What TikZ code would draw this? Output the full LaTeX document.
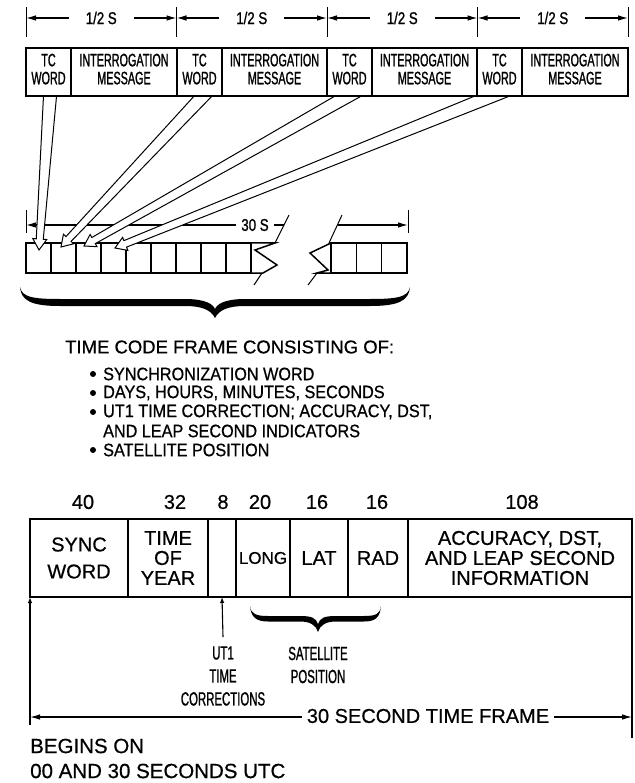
\documentclass[tikz,border=0pt]{standalone}
\usepackage{fontspec}
\setmainfont{Liberation Sans}[FakeBold=0.6]
\newfontfamily\condf[FakeStretch=0.6,FakeBold=1.1]{Liberation Sans}
\newfontfamily\midf[FakeStretch=0.78,FakeBold=1.1]{Liberation Sans}
\newfontfamily\semif[FakeStretch=0.9,FakeBold=0.7]{Liberation Sans}
\usetikzlibrary{calc,arrows.meta}
\pgfdeclarelayer{front}
\pgfsetlayers{main,front}
\newcommand\hollowarr[2]{%
  \path ($(#2)!1.15!(#1)$) coordinate (hS) ($(#2)!11pt!(#1)$) coordinate (hH);
  \draw[hollowarrow] ($(hS)!7pt!90:(#2)$) -- ($(hH)!3.5pt!90:(#2)$) -- ($(hH)!7pt!90:(#2)$) -- (#2)
    -- ($(hH)!7pt!-90:(#2)$) -- ($(hH)!3.5pt!-90:(#2)$) -- ($(hS)!7pt!-90:(#2)$);
}
\begin{document}
\begin{tikzpicture}[x=1pt,y=-1pt,
  box/.style={draw,line width=1.7pt,fill=white,inner sep=0pt,outer sep=0pt,anchor=north west,align=center},
  topbox/.style={box,minimum height=48pt,font=\condf\fontsize{18}{18}\selectfont,text depth=6pt},
  botbox/.style={box,minimum height=78pt,font=\fontsize{20}{20}\selectfont},
  cellbox/.style={draw,line width=1.5pt,inner sep=0pt,outer sep=0pt,anchor=north west,minimum width=25pt,minimum height=30pt},
  cellline/.style={line width=1.5pt,line join=miter},
  breakline/.style={line width=1pt},
  dimline/.style={line width=1.1pt},
  dimtick/.style={line width=1pt},
  dimlabel/.style={font=\midf\fontsize{17}{17}\selectfont,inner sep=0pt},
  hollowarrow/.style={draw,line width=1pt,fill=white,line join=miter},
  arr/.style={-{Latex[length=10pt,width=5.5pt]}},
  uparr/.style={line width=1.1pt,-{Latex[length=6pt,width=4.5pt]}},
  num/.style={font=\fontsize{20}{20}\selectfont,inner sep=0pt},
  condlabel/.style={font=\condf\fontsize{19}{23}\selectfont,inner sep=0pt,align=center},
  listtext/.style={font=\semif\fontsize{18}{20}\selectfont,inner sep=0pt,anchor=west},
  bulletdot/.style={circle,fill,inner sep=0pt,minimum size=6pt},
  plain/.style={font=\fontsize{20.5}{20.5}\selectfont,inner sep=0pt,anchor=west},
]
\fill[white] (0,0) rectangle (634,783);
\useasboundingbox (0,0) rectangle (634,783);

% ---- top dimension line ----
\foreach \x [count=\i from 0] in {26,176.5,327,477.5,628} {
  \coordinate (t\i) at (\x,18);
  \draw[dimtick] (\x,7) -- (\x,37);
}
\foreach \i/\j in {0/1,1/2,2/3,3/4} {
  \node[dimlabel,inner xsep=17pt] (h\j) at ($(t\i)!0.5!(t\j)$) {1/2 S};
  \draw[dimline,arr] (h\j.west) -- (t\i);
  \draw[dimline,arr] (h\j.east) -- (t\j);
}

% ---- top boxes (front layer) ----
\begin{pgfonlayer}{front}
\node[topbox,minimum width=45pt] (tc1) at (26,48) {TC\\WORD};
\node[topbox,minimum width=106pt] (im1) at (71,48) {INTERROGATION\\MESSAGE};
\node[topbox,minimum width=45pt] (tc2) at (177,48) {TC\\WORD};
\node[topbox,minimum width=105pt] (im2) at (222,48) {INTERROGATION\\MESSAGE};
\node[topbox,minimum width=45pt] (tc3) at (327,48) {TC\\WORD};
\node[topbox,minimum width=105pt] (im3) at (372,48) {INTERROGATION\\MESSAGE};
\node[topbox,minimum width=45pt] (tc4) at (477,48) {TC\\WORD};
\node[topbox,minimum width=106pt] (im4) at (522,48) {INTERROGATION\\MESSAGE};
\end{pgfonlayer}

% ---- 30 S strip ----
\foreach \i in {1,...,9} \node[cellbox] (c\i) at ({26+25*(\i-1)},243) {};
\foreach \i in {1,2,3} \node[cellbox,minimum width=25.33pt] (r\i) at ({331+25.33*(\i-1)},243) {};
\draw[cellline] (c9.north east) -- (275,243) -- (255,250) -- (277,265) -- (263,273) -- (c9.south east);
\draw[cellline] (r1.north west) -- (310,253) -- (328,270) -- (317,273) -- (r1.south west);
\draw[breakline] (289,215) -- (275,243) (262,273) -- (254,285);
\draw[breakline] (342,215) -- (329,243) (317,273) -- (308,285);

\coordinate (sl) at (26,225);
\coordinate (sr) at (408,225);
\draw[dimtick] (26,210) -- (26,233);
\draw[dimtick] (408,210) -- (408,233);
\node[dimlabel,inner xsep=5pt] (s30) at (255,225) {30 S};
\draw[dimline,arr] (s30.west) -- (sl);
\draw[dimline] (s30.east) -- (284,225);
\draw[dimline,arr] (338,225) -- (sr);

% ---- hollow arrows ----
\coordinate (b1) at ($(tc1.south)+(1.5,0)$);
\coordinate (b2) at ($(tc2.south)+(3.5,0)$);
\coordinate (b3) at ($(tc3.south)+(-1.5,0)$);
\coordinate (b4) at ($(tc4.south)+(-7.5,0)$);
\coordinate (p1) at ($(c1.north)+(0.5,7)$);
\coordinate (p2) at ($(c2.north)+(-2.5,4)$);
\coordinate (p3) at ($(c3.north)+(-4.5,3)$);
\coordinate (p4) at ($(c4.north)+(1.5,5)$);
\hollowarr{b1}{p1}
\hollowarr{b2}{p2}
\hollowarr{b3}{p3}
\hollowarr{b4}{p4}

% ---- big brace ----
\fill (20,287) .. controls (22,297) and (32,299) .. (60,299) -- (185,299)
  .. controls (205,299) and (213,304) .. (215,309)
  .. controls (217,304) and (225,299) .. (245,299) -- (370,299)
  .. controls (398,299) and (408,297) .. (410,287)
  .. controls (409,301) and (398,306) .. (370,306) -- (245,306)
  .. controls (228,306) and (219,310) .. (215,318)
  .. controls (211,310) and (202,306) .. (185,306) -- (60,306)
  .. controls (32,306) and (21,301) .. (20,287) -- cycle;

% ---- list ----
\node[anchor=west,inner sep=0pt,font=\fontsize{18.5}{18.5}\selectfont] (head) at (65,347) {TIME CODE FRAME CONSISTING OF:};
\node[bulletdot] (d1) at (93,374) {};
\node[listtext] (l1) at (103,374) {SYNCHRONIZATION WORD};
\node[bulletdot] (d2) at (93,393) {};
\node[listtext] (l2) at (103,393) {DAYS, HOURS, MINUTES, SECONDS};
\node[bulletdot] (d3) at (93,412) {};
\node[listtext] (l3) at (103,412) {UT1 TIME CORRECTION; ACCURACY, DST,};
\node[listtext] (l4) at (103,431) {AND LEAP SECOND INDICATORS};
\node[bulletdot] (d4) at (93,450) {};
\node[listtext] (l5) at (103,450) {SATELLITE POSITION};

% ---- bit counts ----
\node[num] (n40) at (83,502) {40};
\node[num] (n32) at (175,502) {32};
\node[num] (n8) at (223,502) {8};
\node[num] (n20) at (260,502) {20};
\node[num] (n16a) at (317,502) {16};
\node[num] (n16b) at (377,502) {16};
\node[num] (n108) at (522,502) {108};

% ---- bottom frame ----
\node[botbox,minimum width=98pt] (sync) at (30,519) {SYNC\\[7pt]WORD};
\node[botbox,minimum width=80pt] (toy) at (128,519) {TIME\\OF\\YEAR};
\node[botbox,minimum width=28pt] (utc) at (208,519) {};
\node[botbox,minimum width=54pt,font=\fontsize{17}{17}\selectfont] (lng) at (236,519) {LONG};
\node[botbox,minimum width=58pt] (lat) at (290,519) {LAT};
\node[botbox,minimum width=60pt] (rad) at (348,519) {RAD};
\node[botbox,minimum width=224pt] (acc) at (408,519) {ACCURACY, DST,\\AND LEAP SECOND\\INFORMATION};

% satellite brace
\fill (250,606) .. controls (251,614) and (256,616) .. (268,616) -- (300,616)
  .. controls (312,616) and (316,618) .. (318,624)
  .. controls (320,618) and (324,616) .. (336,616) -- (364,616)
  .. controls (376,616) and (380,614) .. (381,606)
  .. controls (380,617) and (376,621.5) .. (364,621.5) -- (336,621.5)
  .. controls (326,621.5) and (320,625) .. (318,632)
  .. controls (316,625) and (310,621.5) .. (300,621.5) -- (268,621.5)
  .. controls (256,621.5) and (251,617) .. (250,606) -- cycle;

\node[condlabel] (ut1lbl) at (223,676) {UT1\\TIME\\CORRECTIONS};
\node[condlabel] (satlbl) at (318,665) {SATELLITE\\POSITION};
\draw[uparr] ([yshift=9pt]ut1lbl.north) -- (utc.south);

\coordinate (lb) at (30,725);
\coordinate (rb) at (632,738);
\draw[uparr] (lb) -- (sync.south west);
\draw[line width=1.1pt] (acc.south east) -- (rb);

\node[font=\fontsize{20}{20}\selectfont,inner ysep=0pt,inner xsep=5pt] (frame) at (428,716) {30 SECOND TIME FRAME};
\coordinate (fl) at (30,717);
\coordinate (fr) at (632,717);
\draw[dimline,arr] (frame.west |- fl) -- (fl);
\draw[dimline,arr] (frame.east |- fr) -- (fr);

\node[plain] (beg) at (30,746) {BEGINS ON};
\node[plain] (utcline) at (30,771) {00 AND 30 SECONDS UTC};
\end{tikzpicture}
\end{document}
